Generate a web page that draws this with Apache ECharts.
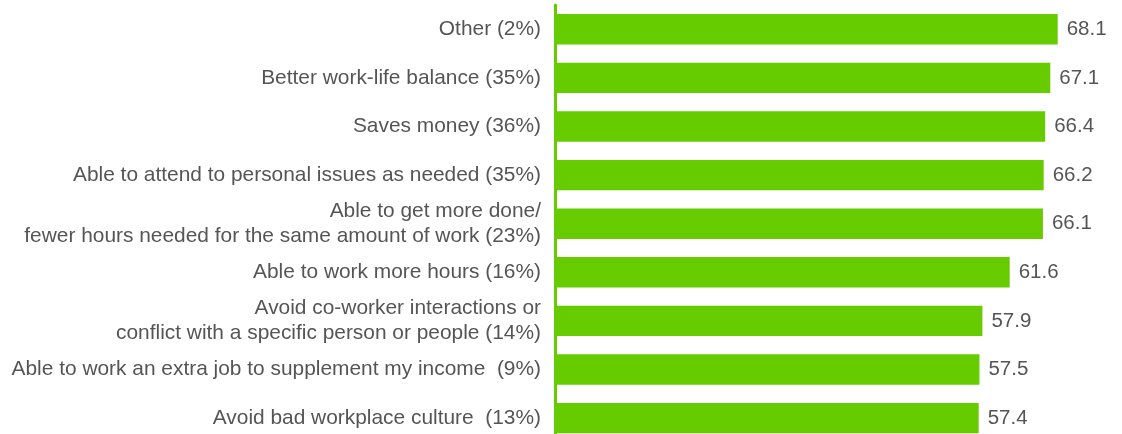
<!DOCTYPE html>
<html>
<head>
<meta charset="utf-8">
<script src="https://cdn.jsdelivr.net/npm/echarts@6/dist/echarts.min.js"></script>
<style>
  html, body { margin: 0; padding: 0; background: #ffffff; }
  #chart { width: 1122px; height: 434px; }
</style>
</head>
<body>
<div id="chart"></div>
<script>
// Reasons for working remotely (share of respondents) and their scores
const categories = [
  'Other (2%)',
  'Better work-life balance (35%)',
  'Saves money (36%)',
  'Able to attend to personal issues as needed (35%)',
  'Able to get more done/\nfewer hours needed for the same amount of work (23%)',
  'Able to work more hours (16%)',
  'Avoid co-worker interactions or\nconflict with a specific person or people (14%)',
  'Able to work an extra job to supplement my income  (9%)',
  'Avoid bad workplace culture  (13%)'
];
const scores = [68.1, 67.1, 66.4, 66.2, 66.1, 61.6, 57.9, 57.5, 57.4];

const GREEN = '#66cc00';
const TEXT = '#555555';
const FONT = '"Liberation Sans", Arial, Helvetica, sans-serif';

const chart = echarts.init(document.getElementById('chart'), null, { renderer: 'canvas' });
chart.setOption({
  backgroundColor: '#ffffff',
  animation: false,
  grid: {
    left: 555,
    top: 5,
    width: 561,
    height: 437.4,
    containLabel: false,
    outerBoundsMode: 'none'
  },
  xAxis: {
    type: 'value',
    min: 0,
    max: 76,
    show: false
  },
  yAxis: {
    type: 'category',
    inverse: true,
    data: categories,
    axisLine: { show: true, lineStyle: { color: GREEN, width: 3 } },
    axisTick: { show: false },
    splitLine: { show: false },
    axisLabel: {
      margin: 14,
      color: TEXT,
      fontFamily: FONT,
      fontSize: 20.9,
      lineHeight: 25,
      align: 'right',
      padding: [6, 0, 0, 0]
    }
  },
  series: [{
    type: 'bar',
    data: scores,
    barWidth: 30.4,
    itemStyle: { color: GREEN },
    label: {
      show: true,
      position: 'right',
      distance: 9,
      color: TEXT,
      fontFamily: FONT,
      fontSize: 20.5,
      padding: [4, 0, 0, 0],
      formatter: p => p.value.toFixed(1)
    }
  }]
});
</script>
</body>
</html>
